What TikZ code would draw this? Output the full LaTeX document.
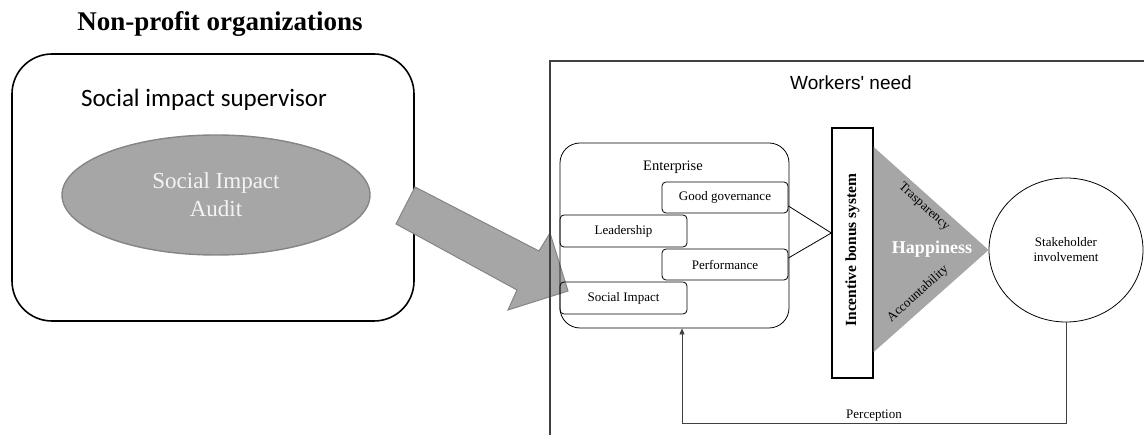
\documentclass[tikz,border=0pt]{standalone}
\usepackage{fontspec}
\setmainfont{Liberation Serif}
\newfontfamily\calibrifont{Carlito}
\newfontfamily\arialfont{Liberation Sans}
\usetikzlibrary{arrows.meta,positioning,shapes.geometric}
\definecolor{midgray}{HTML}{A6A6A6}
\definecolor{edgegray}{HTML}{858585}
\definecolor{framegray}{HTML}{404040}
\definecolor{paletext}{HTML}{F4F4F4}

\begin{document}
\begin{tikzpicture}[x=1pt, y=-1pt,
  bigbox/.style={draw, line width=1.6pt, rounded corners=40pt, minimum width=402pt, minimum height=267pt, inner sep=0pt},
  audit/.style={ellipse, draw=edgegray, fill=midgray, line width=1.4pt, minimum width=308pt, minimum height=120pt, inner sep=0pt, align=center, text=paletext, font=\fontsize{23}{28}\selectfont},
  entbox/.style={draw, line width=0.8pt, rounded corners=20pt, minimum width=229pt, minimum height=185pt, inner sep=0pt},
  factor/.style={draw, line width=0.8pt, rounded corners=4pt, minimum width=126pt, minimum height=32pt, inner sep=0pt, font=\fontsize{13}{15}\selectfont},
  bar/.style={draw, line width=1.4pt, minimum width=41pt, minimum height=250pt, inner sep=0pt},
  stake/.style={ellipse, draw, line width=0.8pt, minimum width=154pt, minimum height=144pt, inner sep=0pt, align=center, font=\fontsize{13}{15}\selectfont},
  edge/.style={font=\fontsize{13}{15}\selectfont, inner sep=1pt},
  flow/.style={-{Triangle[length=6pt, width=5pt]}, line width=0.7pt, draw=black!75},
  bigarrow/.style={fill=midgray, draw=edgegray, line width=1pt, line join=miter}
]
\useasboundingbox (0,0) rectangle (1144,435);

% left part
\node[font=\bfseries\fontsize{27}{30}\selectfont] (npo) at (220,24) {Non-profit organizations};
\node[bigbox] (supervisor) at (213,187.5) {};
\node[font=\calibrifont\fontsize{25}{30}\selectfont] (suptitle) at (204,100) {Social impact supervisor};
\node[audit] (sia) at (216,195) {Social Impact\\Audit};

% block arrow towards the enterprise
\filldraw[bigarrow] (415,187) -- (539,251) -- (550,233) -- (568,291) -- (508,310) -- (517,290) -- (396,224) -- cycle;

% right frame
\coordinate (framecorner) at (550,61);
\draw[framegray, line width=1.8pt] (framecorner |- 0,436) -- (framecorner) -- (1145,61);
\node[font=\arialfont\fontsize{19}{22}\selectfont] (workers) at (851,83) {Workers' need};

% enterprise
\node[entbox] (ent) at (674.5,235.5) {};
\node[font=\fontsize{14.5}{17}\selectfont] (enttitle) at (673,167) {Enterprise};
\node[factor, minimum height=31pt] (gov) at (725,197.5) {Good governance};
\node[factor, minimum width=127pt] (lead) at (623.5,231) {Leadership};
\node[factor, minimum height=31pt] (perf) at (725,264.5) {Performance};
\node[factor, minimum width=127pt] (simp) at (623.5,298) {Social Impact};

% incentive bar and happiness
\node[bar] (bonus) at (852.5,253) {};
\node[rotate=90, font=\bfseries\fontsize{15.5}{18}\selectfont] (bonustext) at ([yshift=3pt]bonus.center) {Incentive bonus system};
\node[stake] (stakeholder) at (1066,250) {Stakeholder\\involvement};
\fill[midgray] ([yshift=106pt]bonus.east) -- (stakeholder.west) -- ([yshift=-99pt]bonus.east) -- cycle;
\draw[line width=0.8pt] ([yshift=-8.5pt]gov.east) -- ([yshift=20pt]bonus.west) -- ([yshift=6.5pt]perf.east);
\node[text=white, font=\bfseries\fontsize{18}{21}\selectfont] (happy) at (932,249) {Happiness};
\node[edge, rotate=-42] (transp) at (924,207) {Trasparency};
\node[edge, rotate=42] (account) at (918,294) {Accountability};

% feedback
\coordinate (perccorner) at (682,423);
\draw[flow] (stakeholder.south) |- node[pos=0.75, above, edge]{Perception} (perccorner) -- (perccorner |- ent.south);
\end{tikzpicture}
\end{document}
